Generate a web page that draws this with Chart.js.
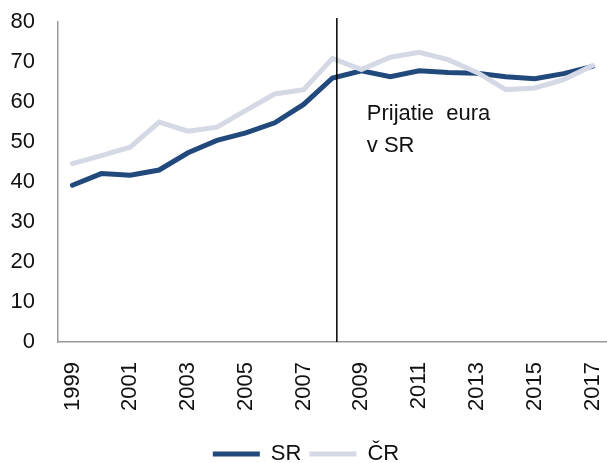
<!DOCTYPE html>
<html>
<head>
<meta charset="utf-8">
<script src="https://cdn.jsdelivr.net/npm/chart.js@4/dist/chart.umd.min.js"></script>
<style>
  html, body { margin: 0; padding: 0; background: #fff; overflow: hidden; }
  #wrap { width: 607px; height: 463px; position: relative; }
</style>
</head>
<body>
<div id="wrap"><canvas id="chart"></canvas></div>
<script>
// roky a hodnoty odčítané z grafu
const years = ['1999','2000','2001','2002','2003','2004','2005','2006','2007','2008',
  '2009','2010','2011','2012','2013','2014','2015','2016','2017'];
const srValues = [39.2, 42.1, 41.7, 43.0, 47.3, 50.4, 52.3, 54.8, 59.4, 66.0,
  67.8, 66.3, 67.8, 67.4, 67.2, 66.3, 65.8, 67.1, 68.9];
const crValues = [44.6, 46.6, 48.7, 55.0, 52.7, 53.7, 57.9, 62.0, 63.1, 70.9,
  68.1, 71.2, 72.4, 70.6, 67.4, 63.1, 63.5, 65.6, 69.1];
const yTicks = [0, 10, 20, 30, 40, 50, 60, 70, 80];

// zvislá čiara: prijatie eura (kúsok za bodom 2008)
const euroIndex = 9.15;
const noteLines = ['Prijatie  eura', 'v SR'];
const noteValues = [56.9, 49.1];

const FONT = 'Liberation Sans, Arial, sans-serif';
const DARK = '#21497C';
const LIGHT = '#D5D9E5';

const euroLine = {
  id: 'euroLine',
  afterDatasetsDraw(chart) {
    const { ctx, chartArea, scales } = chart;
    const i0 = Math.floor(euroIndex);
    const p0 = scales.x.getPixelForValue(i0);
    const p1 = scales.x.getPixelForValue(i0 + 1);
    const x = p0 + (p1 - p0) * (euroIndex - i0);
    ctx.save();
    ctx.strokeStyle = '#000';
    ctx.lineWidth = 1.5;
    ctx.beginPath();
    ctx.moveTo(x, chartArea.top - 4);
    ctx.lineTo(x, chartArea.bottom);
    ctx.stroke();
    ctx.fillStyle = '#111';
    ctx.font = '22px ' + FONT;
    ctx.textBaseline = 'middle';
    ctx.textAlign = 'left';
    noteLines.forEach((t, k) => {
      ctx.fillText(t, x + 30, scales.y.getPixelForValue(noteValues[k]));
    });
    ctx.restore();
  }
};

new Chart(document.getElementById('chart'), {
  type: 'line',
  data: {
    labels: years,
    datasets: [
      { label: 'SR', data: srValues, borderColor: DARK, backgroundColor: DARK,
        borderWidth: 5, pointRadius: 0, tension: 0, borderCapStyle: 'round', order: 1 },
      { label: 'ČR', data: crValues, borderColor: LIGHT, backgroundColor: LIGHT,
        borderWidth: 5, pointRadius: 0, tension: 0, borderCapStyle: 'round', order: 0 }
    ]
  },
  options: {
    responsive: true,
    maintainAspectRatio: false,
    animation: false,
    devicePixelRatio: 1,
    layout: { padding: { top: 22, right: -5, left: 0, bottom: -12 } },
    plugins: {
      legend: {
        position: 'bottom',
        labels: {
          color: '#111', font: { family: FONT, size: 22 },
          usePointStyle: true, pointStyle: 'line', pointStyleWidth: 47,
          padding: 8,
          sort: (a, b) => a.datasetIndex - b.datasetIndex
        }
      },
      tooltip: { enabled: false }
    },
    scales: {
      x: {
        offset: true,
        grid: { display: false, drawTicks: false, offset: true },
        border: { color: '#9a9a9a', width: 1.5 },
        afterFit: s => { s.height = 93; s.paddingLeft = 0; s.paddingRight = 0; },
        ticks: {
          color: '#111', font: { family: FONT, size: 22 },
          autoSkip: false, minRotation: 90, maxRotation: 90, padding: 20,
          callback: (v, i) => i % 2 === 0 ? years[i] : ''
        }
      },
      y: {
        min: 0, max: 80,
        afterBuildTicks: s => { s.ticks = yTicks.map(v => ({ value: v })); },
        afterFit: s => { s.width = 58; s.paddingTop = 0; s.paddingBottom = 0; },
        grid: { display: false, drawTicks: false },
        border: { color: '#9a9a9a', width: 1.5 },
        ticks: { color: '#111', font: { family: FONT, size: 22 }, padding: 23 }
      }
    }
  },
  plugins: [euroLine]
});
</script>
</body>
</html>
